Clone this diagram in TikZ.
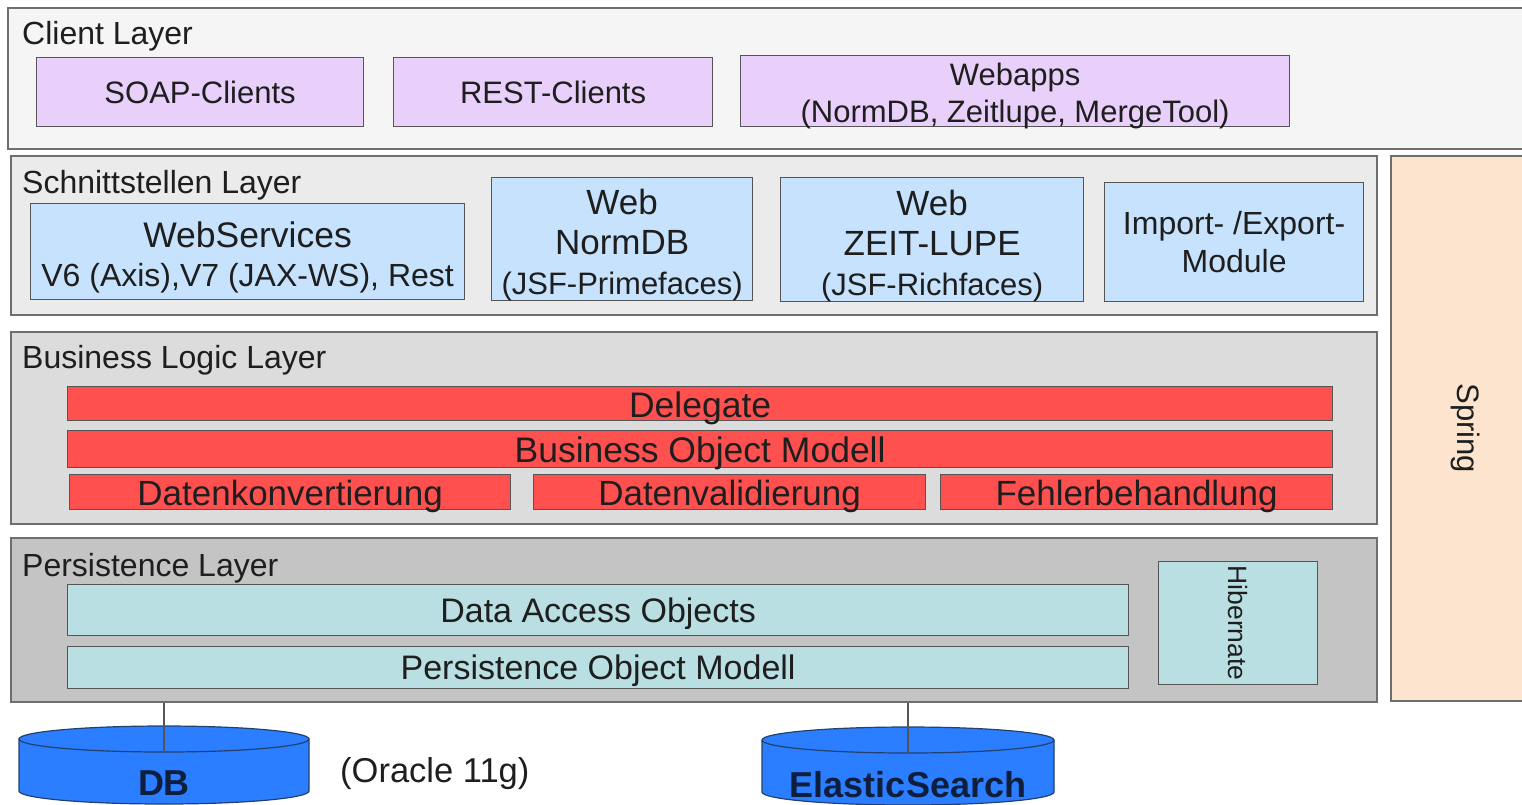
\documentclass[tikz,border=0pt]{standalone}
\usepackage{fontspec}
\setmainfont{Liberation Sans}
\usepackage{xcolor}
\usepackage{tikz}
\definecolor{clientbg}{HTML}{F5F5F5}
\definecolor{ifacebg}{HTML}{EBEBEB}
\definecolor{logicbg}{HTML}{DCDCDC}
\definecolor{persbg}{HTML}{C4C4C4}
\definecolor{lilac}{HTML}{E8D0FA}
\definecolor{skyblue}{HTML}{C6E2FC}
\definecolor{boxred}{HTML}{FF5050}
\definecolor{paleteal}{HTML}{B9DFE3}
\definecolor{peach}{HTML}{FDE4CE}
\definecolor{dbblue}{HTML}{2A7EFF}
\definecolor{dbline}{HTML}{23406E}
\definecolor{dbink}{HTML}{0E1E3C}
\definecolor{layerline}{HTML}{6E6E6E}
\definecolor{boxline}{HTML}{555555}
\definecolor{ink}{HTML}{1E1E1E}

\begin{document}
\begin{tikzpicture}[x=1pt,y=-1pt,every node/.style={text=ink},
    layer/.style={draw=layerline,line width=1.5pt,inner sep=0pt,anchor=north west},
    box/.style={draw=boxline,line width=1.2pt,inner sep=0pt,anchor=north west,align=center},
    redbox/.style={box,fill=boxred,text height=27pt,text depth=0pt},
    tealbox/.style={box,fill=paleteal,text height=24pt,text depth=0pt,font=\fontsize{34}{40}\selectfont},
    layerlabel/.style={anchor=base west,inner sep=0pt,font=\fontsize{32}{38}\selectfont},
    dbtext/.style={anchor=base,inner sep=0pt,text=dbink,font=\fontsize{36}{40}\selectfont\bfseries},
    cyl/.style={draw=dbline,line width=1.2pt,fill=dbblue}]
    \useasboundingbox (0,0) rectangle (1522,804);
    \node[layer,fill=clientbg,minimum width=1530pt,minimum height=141pt] (client) at (7,7) {};
    \node[layer,fill=ifacebg,minimum width=1366pt,minimum height=159pt] (iface) at (10,155) {};
    \node[layer,fill=logicbg,minimum width=1366pt,minimum height=192pt] (logic) at (10,331) {};
    \node[layer,fill=persbg,minimum width=1366pt,minimum height=164pt] (pers) at (10,537) {};
    \node[layer,fill=peach,minimum width=150pt,minimum height=545pt] (spring) at (1390,155) {};
    \node[rotate=-90,font=\fontsize{31}{36}\selectfont] (springtxt) at (spring.center) {Spring};

    \node[layerlabel] (clientlbl) at (22,44) {Client Layer};
    \node[layerlabel] (ifacelbl) at (22,193) {Schnittstellen Layer};
    \node[layerlabel] (logiclbl) at (22,368) {Business Logic Layer};
    \node[layerlabel] (perslbl) at (22,576) {Persistence Layer};

    \node[box,fill=lilac,minimum width=327pt,minimum height=69pt,font=\fontsize{31}{36}\selectfont] (soap) at (36,57) {SOAP-Clients};
    \node[box,fill=lilac,minimum width=319pt,minimum height=69pt,font=\fontsize{31}{36}\selectfont] (rest) at (393,57) {REST-Clients};
    \node[box,fill=lilac,minimum width=549pt,minimum height=71pt,text height=63pt,text depth=0pt,font=\fontsize{31}{37}\selectfont] (webapps) at (740,55) {Webapps\\(NormDB, Zeitlupe, MergeTool)};

    \node[box,fill=skyblue,minimum width=434pt,minimum height=96pt,text height=70pt,text depth=0pt,font=\fontsize{35.5}{39}\selectfont] (ws) at (30,203) {WebServices\\{\fontsize{32}{39}\selectfont V6 (Axis),V7 (JAX-WS), Rest}};
    \node[box,fill=skyblue,minimum width=261pt,minimum height=123pt,text height=111pt,text depth=0pt,font=\fontsize{35}{40}\selectfont] (webnorm) at (491,177) {Web\\NormDB\\{\fontsize{31}{40}\selectfont (JSF-Primefaces)}};
    \node[box,fill=skyblue,minimum width=303pt,minimum height=124pt,text height=111pt,text depth=0pt,font=\fontsize{35}{40}\selectfont] (webzeit) at (780,177) {Web\\ZEIT-LUPE\\{\fontsize{31}{40}\selectfont (JSF-Richfaces)}};
    \node[box,fill=skyblue,minimum width=259pt,minimum height=119pt,font=\fontsize{32}{38}\selectfont] (impexp) at (1104,182) {Import- /Export-\\Module};

    \node[redbox,minimum width=1265pt,minimum height=34pt,font=\fontsize{35.5}{40}\selectfont] (delegate) at (67,386) {Delegate};
    \node[redbox,minimum width=1265pt,minimum height=37pt,font=\fontsize{35.5}{40}\selectfont] (bom) at (67,430) {Business Object Modell};
    \node[redbox,minimum width=441pt,minimum height=35pt,font=\fontsize{35}{40}\selectfont] (konv) at (69,474) {Datenkonvertierung};
    \node[redbox,minimum width=392pt,minimum height=35pt,font=\fontsize{35}{40}\selectfont] (valid) at (533,474) {Datenvalidierung};
    \node[redbox,minimum width=392pt,minimum height=35pt,font=\fontsize{35}{40}\selectfont] (fehler) at (940,474) {Fehlerbehandlung};

    \node[tealbox,minimum width=1061pt,minimum height=51pt] (dao) at (67,584) {Data Access Objects};
    \node[tealbox,minimum width=1061pt,minimum height=42pt] (pom) at (67,646) {Persistence Object Modell};
    \node[box,fill=paleteal,minimum width=159pt,minimum height=123pt] (hib) at (1158,561) {};
    \node[rotate=-90,font=\fontsize{26.5}{30}\selectfont] (hibtxt) at (hib.center) {Hibernate};

    \draw[cyl] (19,739) -- (19,791) arc[start angle=180,end angle=0,x radius=145,y radius=13] -- (309,739);
    \draw[cyl] (164,739) ellipse[x radius=145,y radius=13];
    \draw[cyl] (762,740) -- (762,792) arc[start angle=180,end angle=0,x radius=146,y radius=13] -- (1054,740);
    \draw[cyl] (908,740) ellipse[x radius=146,y radius=13];
    \coordinate (dbtop) at (164,752);
    \coordinate (estop) at (908,753);
    \node[dbtext] (db) at (164,795) {DB};
    \node[dbtext] (es) at (908,797) {ElasticSearch};
    \node[anchor=base west,inner sep=0pt,font=\fontsize{34.5}{40}\selectfont] (oracle) at (340,782) {(Oracle 11g)};
    \draw[boxline,line width=1.2pt] (dbtop |- pers.south) -- (dbtop);
    \draw[boxline,line width=1.2pt] (estop |- pers.south) -- (estop);
\end{tikzpicture}
\end{document}
